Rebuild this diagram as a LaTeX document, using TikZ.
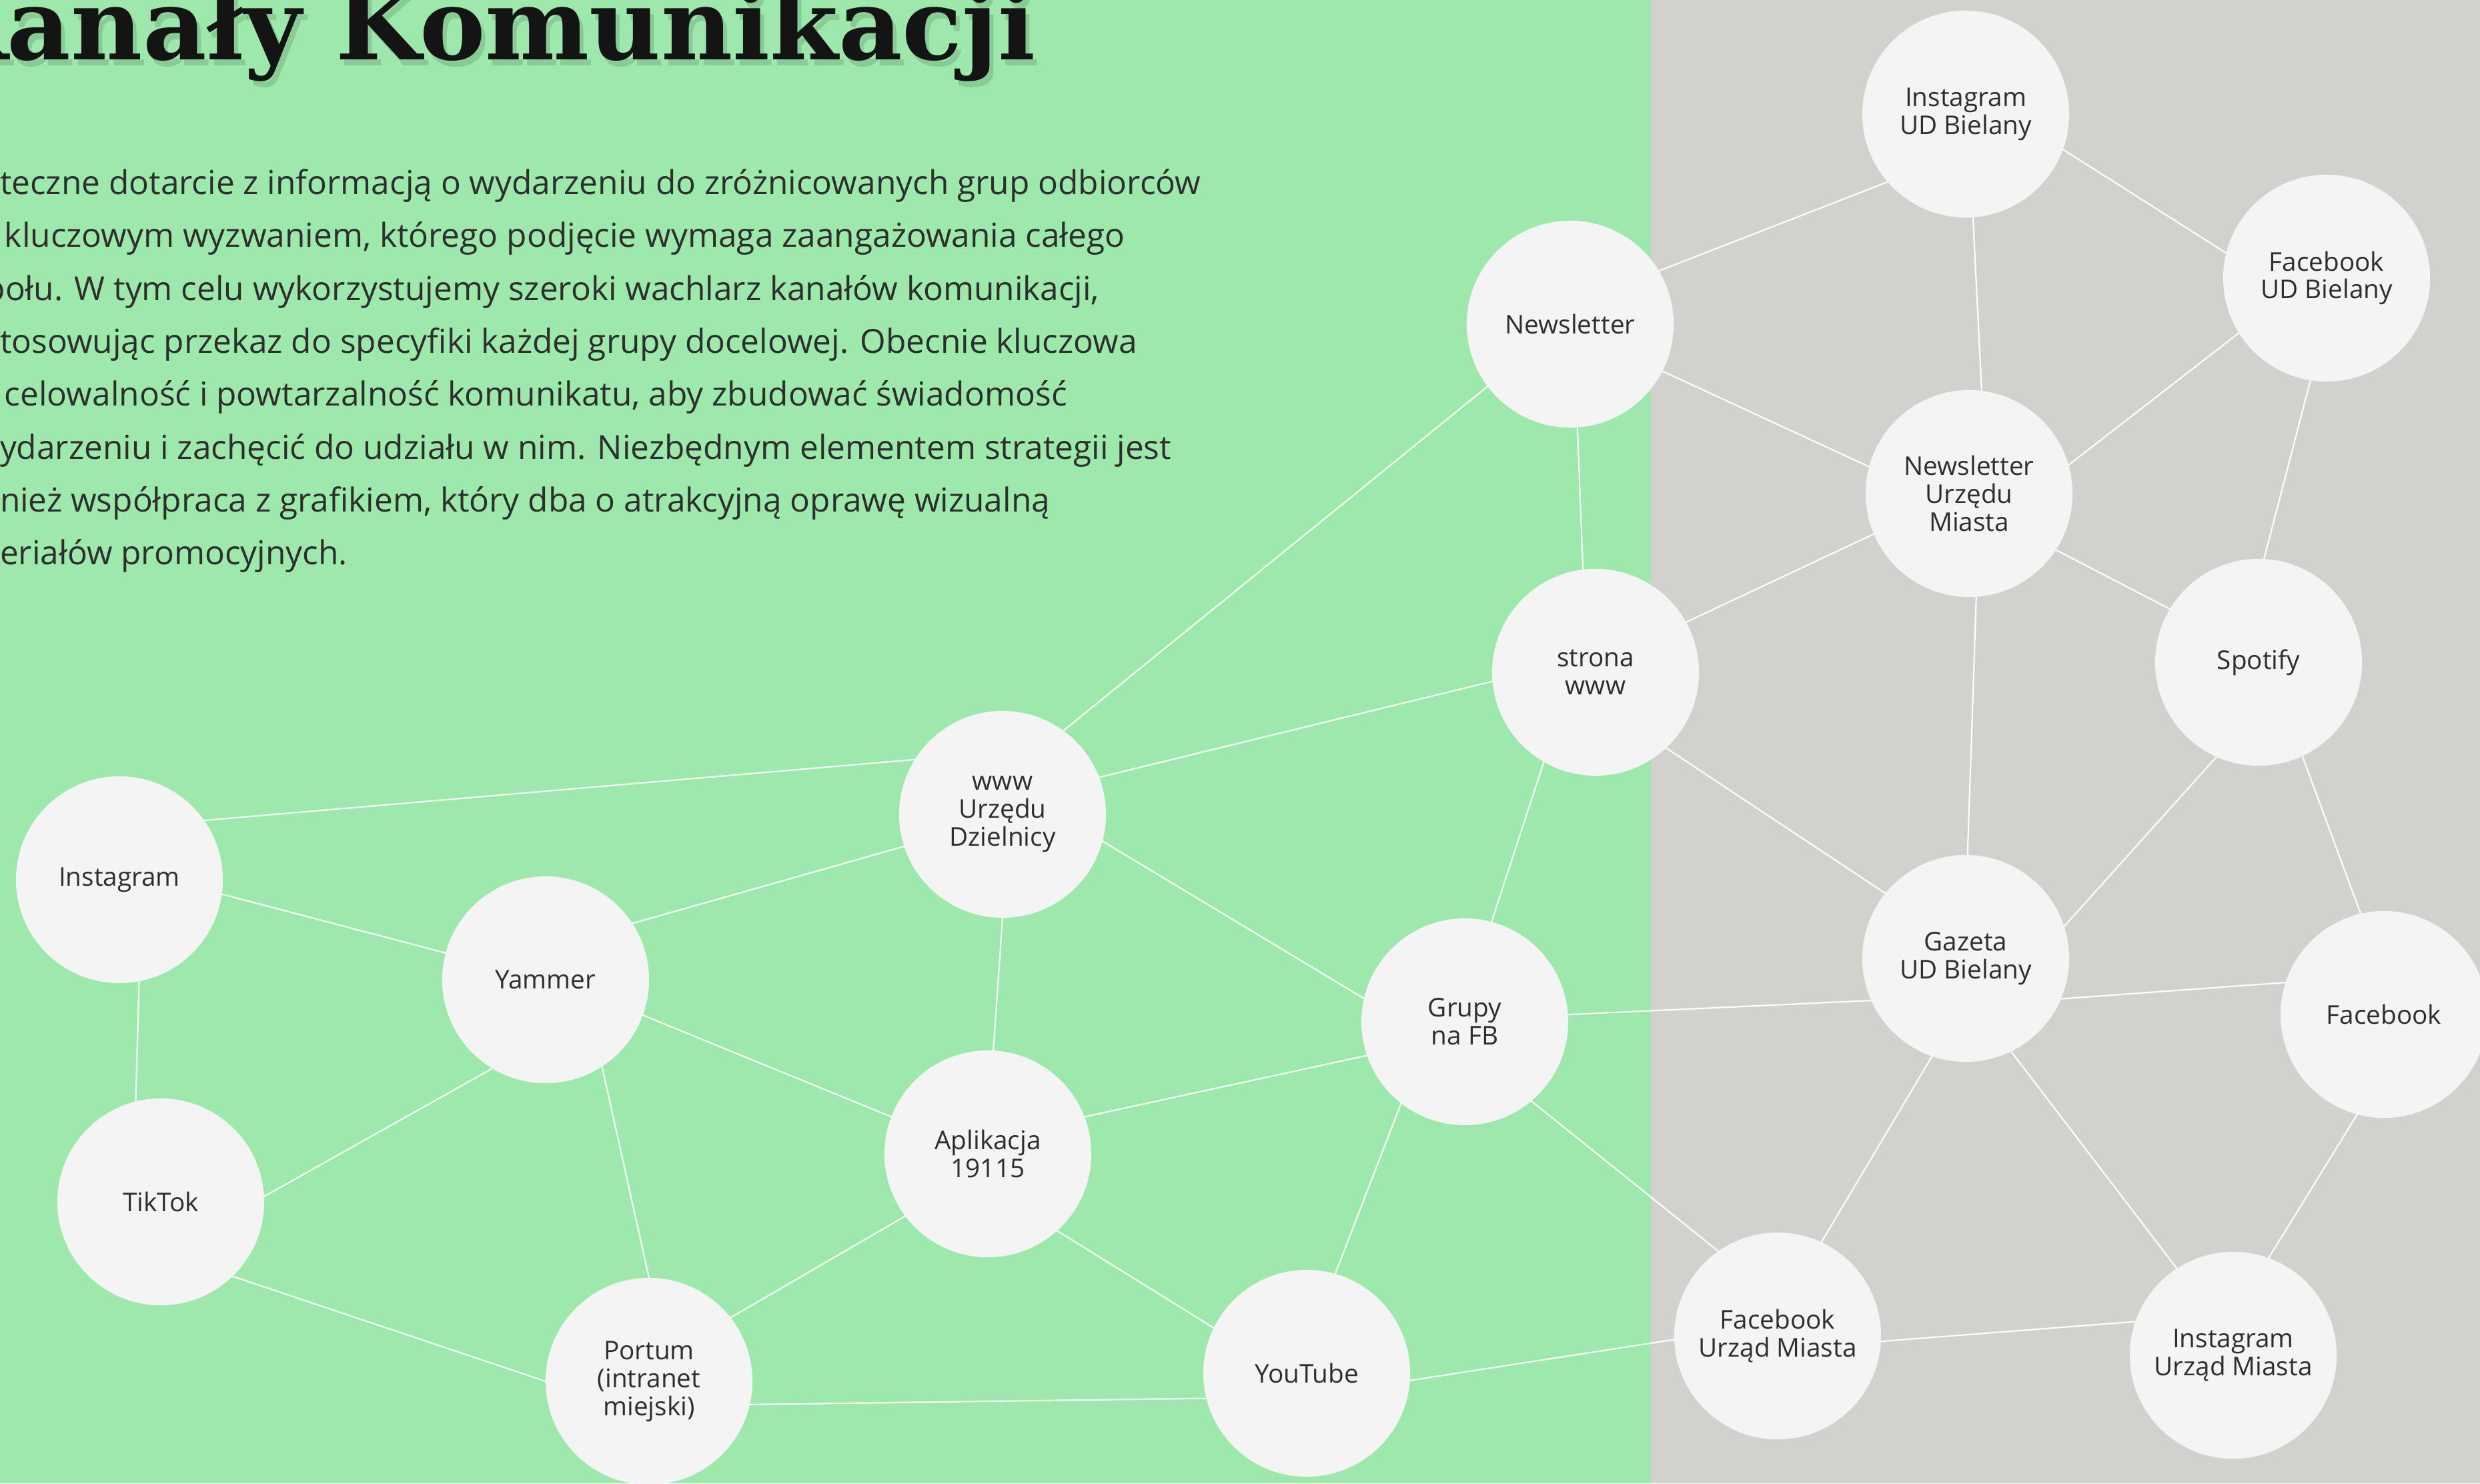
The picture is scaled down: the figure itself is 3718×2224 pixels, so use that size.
\documentclass[tikz,border=0pt]{standalone}
\usepackage{fontspec}
\setmainfont{Open Sans}
\newfontfamily\titlefont{DejaVu Serif}
\definecolor{bggreen}{HTML}{9DE8AB}
\definecolor{bggrey}{HTML}{D2D1CD}
\definecolor{circfill}{HTML}{F4F4F4}
\definecolor{txtcol}{HTML}{2E2E2E}
\definecolor{ttlcol}{HTML}{141414}
\tikzset{
  chan/.style={circle, fill=circfill, minimum size=3.1cm, inner sep=0pt, outer sep=0pt,
    text=txtcol, align=center, font=\fontsize{11}{11.9}\selectfont},
  link/.style={draw=white, line width=0.6pt},
  para/.style={anchor=base west, inner sep=0pt, outer sep=0pt, text=txtcol,
    font=\fontsize{14.1}{16}\selectfont},
  ttl/.style={anchor=base west, inner sep=0pt, outer sep=0pt,
    font=\titlefont\bfseries\fontsize{42}{42}\selectfont}
}
\begin{document}
\begin{tikzpicture}[x=0.01cm, y=-0.01cm]
\useasboundingbox (0,0) rectangle (3718,2224);
\clip (0,0) rectangle (3718,2224);
\fill[bggreen] (0,0) rectangle (2475,2224);
\fill[bggrey] (2475,0) rectangle (3718,2224);

% title
\node[ttl, text=black, opacity=0.12] (tshadow) at (17,98) {\llap{K}anały Komunikacji};
\node[ttl, text=ttlcol] (title) at (11,90) {\llap{K}anały Komunikacji};

% paragraph
\node[para] (p1) at (0,291) {teczne dotarcie z informacją o wydarzeniu do zróżnicowanych grup odbiorców};
\node[para] (p2) at (7,370) {kluczowym wyzwaniem, którego podjęcie wymaga zaangażowania całego};
\node[para] (p3) at (8,450) {\llap{p}ołu. W tym celu wykorzystujemy szeroki wachlarz kanałów komunikacji,};
\node[para] (p4) at (0,529) {tosowując przekaz do specyfiki każdej grupy docelowej. Obecnie kluczowa};
\node[para] (p5) at (7,608) {celowalność i powtarzalność komunikatu, aby zbudować świadomość};
\node[para] (p6) at (0,688) {ydarzeniu i zachęcić do udziału w nim. Niezbędnym elementem strategii jest};
\node[para] (p7) at (0,767) {nież współpraca z grafikiem, który dba o atrakcyjną oprawę wizualną};
\node[para] (p8) at (0,846) {eriałów promocyjnych.};

% channels
\node[chan] (iud) at (2947,171) {Instagram\\UD Bielany};
\node[chan] (fud) at (3488,417) {Facebook\\UD Bielany};
\node[chan] (nl) at (2354,486) {Newsletter};
\node[chan] (num) at (2952,740) {Newsletter\\Urzędu\\Miasta};
\node[chan] (spot) at (3386,993) {Spotify};
\node[chan] (strona) at (2392,1008) {strona\\www};
\node[chan] (wud) at (1503,1221) {www\\Urzędu\\Dzielnicy};
\node[chan] (insta) at (179,1319) {Instagram};
\node[chan] (yam) at (818,1469) {Yammer};
\node[chan] (gaz) at (2947,1437) {Gazeta\\UD Bielany};
\node[chan] (fb) at (3574,1521) {Facebook};
\node[chan] (grupy) at (2196,1532) {Grupy\\na FB};
\node[chan] (tik) at (241,1802) {TikTok};
\node[chan] (apl) at (1481,1730) {Aplikacja\\19115};
\node[chan] (fum) at (2665,2003) {Facebook\\Urząd Miasta};
\node[chan] (ium) at (3348,2032) {Instagram\\Urząd Miasta};
\node[chan] (portum) at (973,2071) {Portum\\(intranet\\miejski)};
\node[chan] (yt) at (1959,2059) {YouTube};

% links
\draw[link] (iud.221) -- (nl.31);
\draw[link] (iud.340) -- (fud.166);
\draw[link] (iud.274) -- (num.83);
\draw[link] (fud.212) -- (num.16);
\draw[link] (fud.261) -- (spot.87);
\draw[link] (nl.333) -- (num.165);
\draw[link] (nl.274) -- (strona.97);
\draw[link] (nl.217) -- (wud.54);
\draw[link] (num.203) -- (strona.29);
\draw[link] (num.327) -- (spot.149);
\draw[link] (num.274) -- (gaz.89);
\draw[link] (spot.246) -- (gaz.18);
\draw[link] (spot.295) -- (fb.103);
\draw[link] (strona.185) -- (wud.21);
\draw[link] (strona.240) -- (grupy.75);
\draw[link] (strona.313) -- (gaz.141);
\draw[link] (wud.148) -- (insta.35);
\draw[link] (wud.198) -- (yam.33);
\draw[link] (wud.270) -- (apl.87);
\draw[link] (wud.345) -- (grupy.167);
\draw[link] (insta.352) -- (yam.165);
\draw[link] (insta.281) -- (tik.104);
\draw[link] (yam.239) -- (tik.3);
\draw[link] (yam.340) -- (apl.159);
\draw[link] (yam.303) -- (portum.90);
\draw[link] (tik.314) -- (portum.180);
\draw[link] (apl.217) -- (portum.38);
\draw[link] (apl.21) -- (grupy.199);
\draw[link] (apl.312) -- (yt.154);
\draw[link] (portum.347) -- (yt.194);
\draw[link] (grupy.232) -- (yt.74);
\draw[link] (grupy.4) -- (gaz.204);
\draw[link] (grupy.310) -- (fum.125);
\draw[link] (yt.356) -- (fum.182);
\draw[link] (gaz.337) -- (fb.162);
\draw[link] (gaz.251) -- (fum.65);
\draw[link] (gaz.296) -- (ium.123);
\draw[link] (fb.255) -- (ium.70);
\draw[link] (fum.357) -- (ium.161);
\end{tikzpicture}
\end{document}
